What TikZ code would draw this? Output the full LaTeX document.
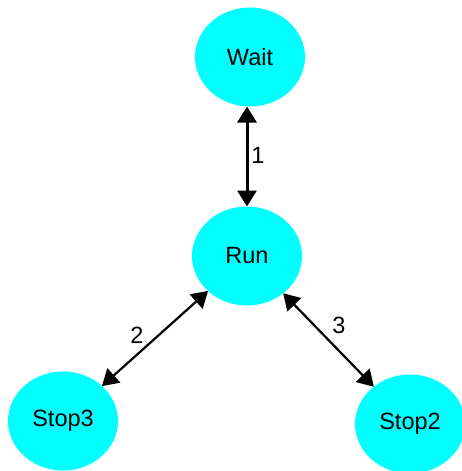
\documentclass[tikz,border=0pt]{standalone}
\usepackage{fontspec}
\setmainfont{Liberation Sans}
\usetikzlibrary{shapes.geometric,arrows.meta}
\definecolor{nodecyan}{RGB}{0,255,255}
\begin{document}
\begin{tikzpicture}[x=1pt,y=-1pt,
  state/.style={ellipse, fill=nodecyan, minimum width=110pt, minimum height=99pt, inner sep=0pt, outer sep=0pt, font=\fontsize{23.5}{28}\selectfont},
  link/.style={line width=2.2pt, {Triangle[length=16pt,width=19pt]}-{Triangle[length=16pt,width=19pt]}},
  thicklink/.style={line width=3pt, {Triangle[length=16pt,width=19pt]}-{Triangle[length=16pt,width=19pt]}},
  lbl/.style={font=\fontsize{23.5}{28}\selectfont, inner sep=0pt}]
\useasboundingbox (0,0) rectangle (462,471);
\node[state] (wait) at (250,57) {Wait};
\node[state] (run) at (247,256) {Run};
\node[state] (stop3) at (63,421) {Stop3};
\node[state] (stop2) at (410,424) {Stop2};
\draw[thicklink] (wait.south -| run.center) -- (run.north);
\draw[link] (run) -- (stop3);
\draw[link] (run) -- (stop2);
\node[lbl] (l1) at (258,155) {1};
\node[lbl] (l2) at (137,335) {2};
\node[lbl] (l3) at (339,325) {3};
\end{tikzpicture}
\end{document}
